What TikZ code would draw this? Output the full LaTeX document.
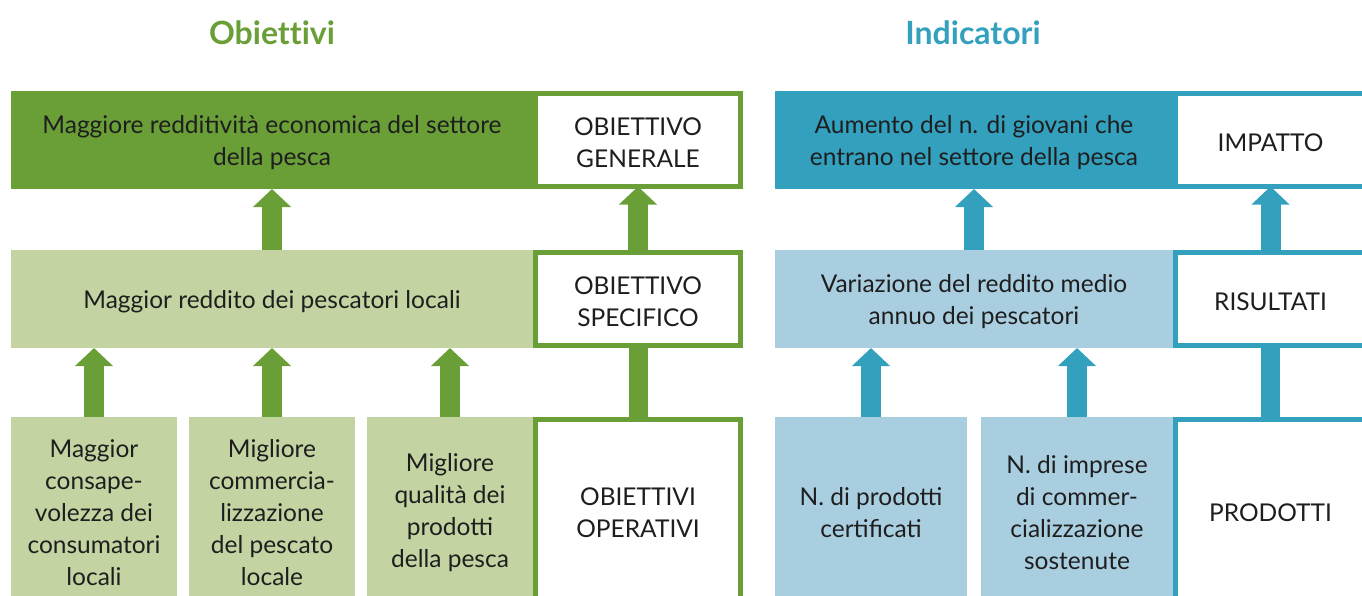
\documentclass[tikz,border=0pt]{standalone}
\usepackage{fontspec}
\setmainfont{Lato}
\usetikzlibrary{arrows.meta}
\definecolor{dg}{HTML}{6A9F37}
\definecolor{lg}{HTML}{C3D4A2}
\definecolor{dt}{HTML}{33A0BE}
\definecolor{lt}{HTML}{A9CEE0}
\definecolor{tx}{HTML}{1E1E1E}
\begin{document}
\begin{tikzpicture}[x=1pt,y=-1pt,
  box/.style={rectangle, inner sep=0pt, outer sep=0pt},
  lab/.style={box, fill=white, line width=5pt},
  txt/.style={inner sep=0pt, align=center, text=tx, shift={(0,3)},
    font=\fontsize{24.5}{32}\selectfont},
  bigarrow/.style={line width=20pt, line cap=butt, -{Triangle[width=37pt,length=18pt]}},
  bar/.style={line width=19pt, line cap=butt},
  title/.style={font=\bfseries\fontsize{32}{33}\selectfont\addfontfeatures{Ligatures=NoCommon}, inner sep=0pt}
]
\useasboundingbox (0,0) rectangle (1362,595);
\clip (0,0) rectangle (1362,595);

% titles
\node[title, text=dg] (t1) at (272,33) {Obiettivi};
\node[title, text=dt] (t2) at (973,33) {Indicatori};

% ---------- left: Obiettivi ----------
\node[box, fill=dg, minimum width=522pt, minimum height=98pt] (g1) at (272,140) {};
\node[lab, draw=dg, minimum width=205pt, minimum height=93pt] (gl1) at (638,140) {};
\node[box, fill=lg, minimum width=522pt, minimum height=98pt] (g2) at (272,299) {};
\node[lab, draw=dg, minimum width=205pt, minimum height=93pt] (gl2) at (638,299) {};
\node[box, fill=lg, minimum width=166pt, minimum height=186pt] (g3a) at (94,510) {};
\node[box, fill=lg, minimum width=166pt, minimum height=186pt] (g3b) at (272,510) {};
\node[box, fill=lg, minimum width=166pt, minimum height=186pt] (g3c) at (450,510) {};
\node[lab, draw=dg, minimum width=205pt, minimum height=181pt] (gl3) at (638,510) {};

\node[txt] (g1t) at (g1.center) {Maggiore redditività economica del settore\\della pesca};
\node[txt] (gl1t) at (gl1.center) {OBIETTIVO\\GENERALE};
\node[txt] (g2t) at (g2.center) {Maggior reddito dei pescatori locali};
\node[txt] (gl2t) at (gl2.center) {OBIETTIVO\\SPECIFICO};
\node[txt] (g3at) at (g3a.center) {Maggior\\consape-\\volezza dei\\consumatori\\locali};
\node[txt] (g3bt) at (g3b.center) {Migliore\\commercia-\\lizzazione\\del pescato\\locale};
\node[txt] (g3ct) at (g3c.center) {Migliore\\qualità dei\\prodotti\\della pesca};
\node[txt] (gl3t) at (gl3.center) {OBIETTIVI\\OPERATIVI};

\draw[bigarrow, dg] (g2.north) -- (g1.south);
\draw[bigarrow, dg] (g3a.north) -- (g3a.north |- g2.south);
\draw[bigarrow, dg] (g3b.north) -- (g3b.north |- g2.south);
\draw[bigarrow, dg] (g3c.north) -- (g3c.north |- g2.south);
\draw[bigarrow, dg] (gl2.north) -- (gl1.south);
\draw[bar, dg] (gl3.north) -- (gl2.south);

% ---------- right: Indicatori ----------
\node[box, fill=dt, minimum width=398pt, minimum height=98pt] (i1) at (974,140) {};
\node[lab, draw=dt, minimum width=190pt, minimum height=93pt] (il1) at (1270.5,140) {};
\node[box, fill=lt, minimum width=398pt, minimum height=98pt] (i2) at (974,299) {};
\node[lab, draw=dt, minimum width=190pt, minimum height=93pt] (il2) at (1270.5,299) {};
\node[box, fill=lt, minimum width=192pt, minimum height=186pt] (i3a) at (871,510) {};
\node[box, fill=lt, minimum width=192pt, minimum height=186pt] (i3b) at (1077,510) {};
\node[lab, draw=dt, minimum width=190pt, minimum height=181pt] (il3) at (1270.5,510) {};

\node[txt] (i1t) at (i1.center) {Aumento del n. di giovani che\\entrano nel settore della pesca};
\node[txt] (il1t) at (il1.center) {IMPATTO};
\node[txt] (i2t) at (i2.center) {Variazione del reddito medio\\annuo dei pescatori};
\node[txt] (il2t) at (il2.center) {RISULTATI};
\node[txt] (i3at) at (i3a.center) {N. di prodotti\\certificati};
\node[txt] (i3bt) at (i3b.center) {N. di imprese\\di commer-\\cializzazione\\sostenute};
\node[txt] (il3t) at (il3.center) {PRODOTTI};

\draw[bigarrow, dt] (i2.north) -- (i1.south);
\draw[bigarrow, dt] (i3a.north) -- (i3a.north |- i2.south);
\draw[bigarrow, dt] (i3b.north) -- (i3b.north |- i2.south);
\draw[bigarrow, dt] (il2.north) -- (il1.south);
\draw[bar, dt] (il3.north) -- (il2.south);
\end{tikzpicture}
\end{document}
